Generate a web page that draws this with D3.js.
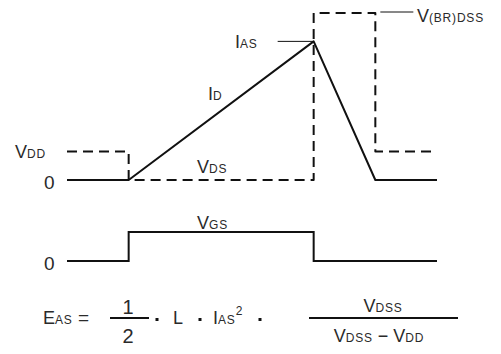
<!DOCTYPE html>
<html>
<head>
<meta charset="utf-8">
<script src="https://cdn.jsdelivr.net/npm/d3@7"></script>
<style>
  body { margin: 0; background: #fff; }
  svg { display: block; }
  text { font-family: "Liberation Sans", Arial, sans-serif; fill: #2a2a2a; }
</style>
</head>
<body>
<div id="chart"></div>
<script>
/**
 * DATA  (time in arbitrary steps, levels in % of V(BR)DSS)
 * */
const timeSteps = [0, 1, 4, 5, 6];
const idPoints = [[0, 0], [1, 0], [4, 83], [5, 0], [6, 0]];
const vdsPoints = [[0, 17], [1, 17], [1, 0], [4, 0], [4, 100], [5, 100], [5, 17], [6, 17]];
const vgsPoints = [[0, 0], [1, 0], [1, 1], [4, 1], [4, 0], [6, 0]];
const levelTicks = [{ v: 17, label: [["V"], ["DD", 1]] }];
const zeroTicks = ["0"];

const width = 501, height = 354;

const svg = d3.select("#chart")
  .append("svg")
  .attr("width", width)
  .attr("height", height);

const xScale = d3.scaleLinear().domain([0, 6]).range([67, 437]);
const yTop = d3.scaleLinear().domain([0, 100]).range([180, 13]);
const yGate = d3.scaleLinear().domain([0, 1]).range([261, 232]);

// text with big letter + small caps part, like the datasheet fonts
function label(x, y, parts, anchor, big) {
  const t = svg.append("text")
    .attr("x", x)
    .attr("y", y)
    .attr("text-anchor", anchor || "start");
  parts.forEach(p => {
    t.append("tspan")
      .style("font-size", p[1] ? "12px" : (big || 18) + "px")
      .style("letter-spacing", p[1] ? "0.8px" : "0px")
      .text(p[0]);
  });
  return t;
}

const line = d3.line()
  .x(d => xScale(d[0]))
  .y(d => yTop(d[1]));

const gateLine = d3.line()
  .x(d => xScale(d[0]))
  .y(d => yGate(d[1]));

// VDS dashed
svg.append("path")
  .datum(vdsPoints)
  .attr("d", line)
  .attr("fill", "none")
  .attr("stroke", "#111")
  .attr("stroke-width", 2)
  .attr("stroke-dasharray", "10,6")
  .attr("stroke-linejoin", "round");

// ID solid
svg.append("path")
  .datum(idPoints)
  .attr("d", line)
  .attr("fill", "none")
  .attr("stroke", "#111")
  .attr("stroke-width", 2)
  .attr("stroke-linejoin", "round");

// VGS
svg.append("path")
  .datum(vgsPoints)
  .attr("d", gateLine)
  .attr("fill", "none")
  .attr("stroke", "#111")
  .attr("stroke-width", 2);

// leader lines
svg.append("line")
  .attr("x1", xScale(4) - 36).attr("x2", xScale(4))
  .attr("y1", yTop(83)).attr("y2", yTop(83))
  .attr("stroke", "#111").attr("stroke-width", 1);
svg.append("line")
  .attr("x1", xScale(5) + 5).attr("x2", xScale(5) + 38)
  .attr("y1", yTop(100) - 1).attr("y2", yTop(100) - 1)
  .attr("stroke", "#111").attr("stroke-width", 1);

// level labels
levelTicks.forEach(d => label(15, yTop(d.v) + 6, d.label));
label(44, yTop(0) + 9, [[zeroTicks[0]]], "start", 19);
label(44, yGate(0) + 9, [[zeroTicks[0]]], "start", 19);

label(208, 100, [["I"], ["D", 1]]);
label(197, 173, [["V"], ["DS", 1]]);
label(235, 48, [["I"], ["AS", 1]]);
label(417, 22, [["V"], ["(BR)DSS", 1]]);
label(197, 229, [["V"], ["GS", 1]]);

// formula
const fy = 318;
label(43, 324, [["E"], ["AS", 1]]);
label(78, 324, [["="]], "start", 19);
svg.append("line").attr("x1", 110).attr("x2", 149).attr("y1", fy).attr("y2", fy)
  .attr("stroke", "#111").attr("stroke-width", 2);
label(128, 314, [["1"]], "middle", 20);
label(128, 343, [["2"]], "middle", 20);
[157, 200, 260].forEach(x => {
  svg.append("rect").attr("x", x - 1.5).attr("y", fy).attr("width", 3).attr("height", 3).attr("fill", "#111");
});
label(173, 324, [["L"]]);
const ias = label(213, 324, [["I"], ["AS", 1]]);
ias.append("tspan").style("font-size", "12px").attr("dy", -9).text("2");
svg.append("line").attr("x1", 309).attr("x2", 458).attr("y1", fy).attr("y2", fy)
  .attr("stroke", "#111").attr("stroke-width", 2);
label(383, 312, [["V"], ["DSS", 1]], "middle");
label(379, 342, [["V"], ["DSS", 1], [" \u2212 "], ["V"], ["DD", 1]], "middle");
</script>
</body>
</html>
